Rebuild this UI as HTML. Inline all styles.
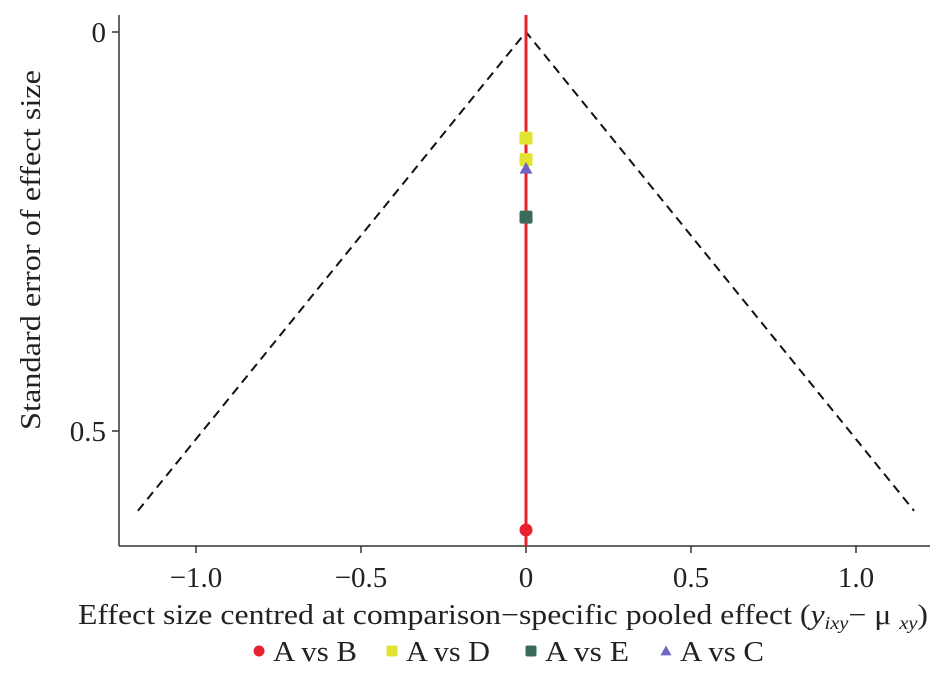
<!DOCTYPE html>
<html><head><meta charset="utf-8"><style>
html,body{margin:0;padding:0;background:#fff;}
svg{display:block;font-family:"Liberation Serif",serif;}
</style></head><body>
<svg id="chart" width="943" height="680" viewBox="0 0 943 680"></svg>
<script>
const xTicks = [-1.0, -0.5, 0, 0.5, 1.0];
const xTickLabels = ["\u22121.0", "\u22120.5", "0", "0.5", "1.0"];
const yTicks = [0, 0.5];
const yTickLabels = ["0", "0.5"];
const seriesNames = ["A vs B", "A vs D", "A vs E", "A vs C"];
const seriesColors = ["#e8212e", "#e2e530", "#3a6b58", "#6d66c4"];
const seriesShapes = ["circle", "square", "square", "triangle"];
const pointX = [[0], [0, 0], [0], [0]];
const pointSE = [[0.624], [0.133, 0.160], [0.232], [0.171]];
const funnelMaxSE = 0.6;
const zCrit = 1.96;

const svg = document.getElementById('chart');
const NS = 'http://www.w3.org/2000/svg';
function xs(v){ return 526 + v*330; }
function ys(v){ return 32 + v*798; }
function mk(tag, attrs, parent){
  const e = document.createElementNS(NS, tag);
  for (const k in attrs) e.setAttribute(k, attrs[k]);
  (parent||svg).appendChild(e);
  return e;
}
let e;
e = mk('line',{x1:119,y1:15,x2:119,y2:546,stroke:'#333','stroke-width':1.5});


e = mk('line',{x1:119,y1:546,x2:930,y2:546,stroke:'#333','stroke-width':1.5});


xTicks.forEach((t,i)=>{
  mk('line',{x1:xs(t),y1:546,x2:xs(t),y2:553,stroke:'#333','stroke-width':1.5});
  e = mk('text',{x:xs(t),y:587,'text-anchor':'middle','font-size':29,fill:'#222'});
  e.textContent = xTickLabels[i];
  
  
});
yTicks.forEach((t,i)=>{
  mk('line',{x1:112,y1:ys(t),x2:119,y2:ys(t),stroke:'#333','stroke-width':1.5});
  e = mk('text',{x:106,y:ys(t)+10,'text-anchor':'end','font-size':29,fill:'#222'});
  e.textContent = yTickLabels[i];
  
  
});
e = mk('polyline',{points:`${xs(-zCrit*funnelMaxSE)},${ys(funnelMaxSE)} ${xs(0)},${ys(0)} ${xs(zCrit*funnelMaxSE)},${ys(funnelMaxSE)}`,fill:'none',stroke:'#111','stroke-width':2,'stroke-dasharray':'9,6'});


e = mk('line',{x1:xs(0),y1:15,x2:xs(0),y2:546,stroke:'#e8212e','stroke-width':3});


function marker(shape,cx,cy,color,s,parent){
  let m;
  if(shape==='circle') m = mk('circle',{cx:cx,cy:cy,r:s,fill:color},parent);
  else if(shape==='square') m = mk('rect',{x:cx-s,y:cy-s,width:2*s,height:2*s,rx:2,fill:color},parent);
  else m = mk('polygon',{points:`${cx},${cy-s} ${cx-s},${cy+s*0.8} ${cx+s},${cy+s*0.8}`,fill:color},parent);
  return m;
}
seriesNames.forEach((n,si)=>{
  pointSE[si].forEach((se,j)=>{
    const m = marker(seriesShapes[si], xs(pointX[si][j]), ys(se), seriesColors[si], 6.5);
    
    
  });
});
e = mk('text',{x:78,y:624,'font-size':28,fill:'#222',textLength:850,lengthAdjust:'spacingAndGlyphs'});
e.innerHTML = 'Effect size centred at comparison\u2212specific pooled effect (<tspan font-style="italic">y</tspan><tspan font-style="italic" font-size="18" dy="5">ixy</tspan><tspan dy="-5">\u2212 \u03bc </tspan><tspan font-style="italic" font-size="18" dy="5">xy</tspan><tspan dy="-5">)</tspan>';


e = mk('text',{x:0,y:0,'text-anchor':'middle','font-size':28,fill:'#222',textLength:360,lengthAdjust:'spacingAndGlyphs',transform:'translate(40,250) rotate(-90)'});
e.textContent = 'Standard error of effect size';


const legX = [259, 392, 531, 666];
seriesNames.forEach((n,i)=>{
  const g = mk('g',{});
  
  
  marker(seriesShapes[i], legX[i], 651, seriesColors[i], 5.5, g);
  const t = mk('text',{x:legX[i]+14,y:661,'font-size':28,fill:'#222',textLength:84,lengthAdjust:'spacingAndGlyphs'}, g);
  t.textContent = n;
});
</script>
</body></html>
